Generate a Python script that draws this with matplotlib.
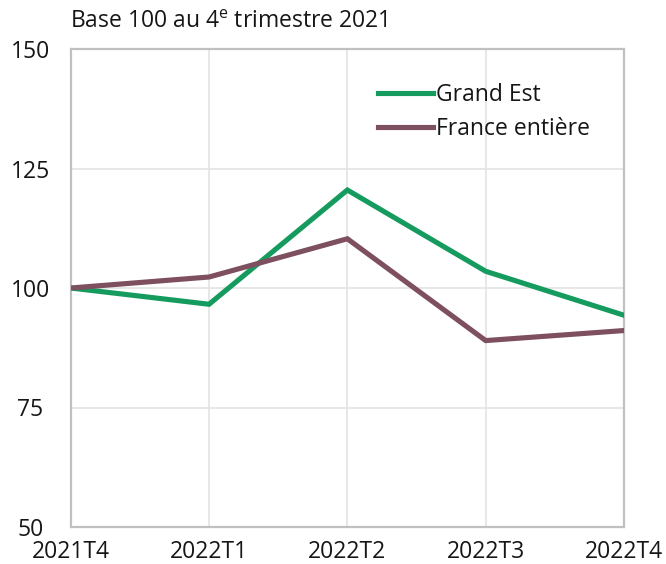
import matplotlib
matplotlib.use("Agg")
import matplotlib.pyplot as plt

categories = ["2021T4", "2022T1", "2022T2", "2022T3", "2022T4"]
grand_est = [100.0, 96.6, 120.5, 103.5, 94.3]
france = [100.0, 102.3, 110.3, 89.0, 91.1]
y_ticks = [50, 75, 100, 125, 150]

plt.rcParams['font.family'] = ['Open Sans', 'DejaVu Sans']
plt.rcParams['mathtext.fontset'] = 'custom'
plt.rcParams['mathtext.rm'] = 'Open Sans'

FS = 16.5
W, H = 666, 564
fig = plt.figure(figsize=(W / 100, H / 100), dpi=100)
ax = fig.add_axes([70.7 / W, 1 - 527 / H, (624 - 70.7) / W, (527 - 49) / H])

x = list(range(len(categories)))
ax.plot(x, grand_est, color='#169B5E', lw=3.7, label='Grand Est', solid_joinstyle='miter', zorder=3)
ax.plot(x, france, color='#7D4F5F', lw=3.7, label='France entière', solid_joinstyle='miter', zorder=3)

ax.set_xlim(0, len(categories) - 1)
ax.set_ylim(50, 150)
ax.set_xticks(x)
ax.set_xticklabels(categories)
ax.set_yticks(y_ticks)
ax.set_yticklabels([str(v) for v in y_ticks], ha='center')
ax.tick_params(axis='y', length=0, pad=29, labelsize=FS, colors='#161616')
ax.tick_params(axis='x', length=0, pad=9, labelsize=FS, colors='#161616')
ax.grid(True, color='#e3e3e3', lw=1.2, zorder=0)
for s in ax.spines.values():
    s.set_color('#c0c0c0')
    s.set_linewidth(1.6)

fig.text(70 / W, 1 - 22 / H, r"Base 100 au 4$^{\mathrm{e}}$ trimestre 2021", fontsize=FS,
         color='#161616', ha='left', va='center')

leg = ax.legend(loc='upper left', bbox_to_anchor=(378 / W, 1 - 83 / H), bbox_transform=fig.transFigure,
                frameon=False, fontsize=FS, handlelength=2.4, handletextpad=0.15, labelspacing=0.45,
                borderpad=0, borderaxespad=0)
for t in leg.get_texts():
    t.set_color('#161616')

fig.savefig('out.png', dpi=100)
